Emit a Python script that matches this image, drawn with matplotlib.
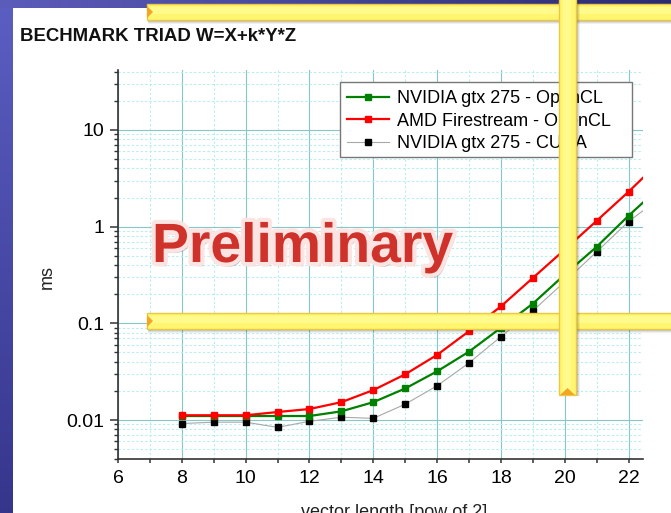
import numpy as np
import matplotlib
matplotlib.use("Agg")
import matplotlib.pyplot as plt
from matplotlib import patheffects as pe
from matplotlib.patches import Polygon, Rectangle
from matplotlib.ticker import FixedLocator, NullFormatter

plt.rcParams['font.family'] = ['Liberation Sans', 'DejaVu Sans']

# ---------------- data ----------------
x_pow = [8, 9, 10, 11, 12, 13, 14, 15, 16, 17, 18, 19, 20, 21, 22, 23]
nvidia_opencl = [0.011, 0.011, 0.011, 0.0110, 0.0110, 0.0123, 0.0153, 0.0212,
                 0.0319, 0.051, 0.090, 0.160, 0.32, 0.62, 1.30, 2.6]
amd_opencl = [0.0112, 0.0112, 0.0112, 0.0121, 0.0130, 0.0153, 0.0204, 0.0297,
              0.0472, 0.083, 0.150, 0.295, 0.58, 1.15, 2.30, 4.8]
nvidia_cuda = [0.0092, 0.0095, 0.0095, 0.0084, 0.0097, 0.0107, 0.0104, 0.0146,
               0.0226, 0.039, 0.073, 0.135, 0.27, 0.55, 1.13, 2.0]
series_labels = ["NVIDIA gtx 275 - OpenCL", "AMD Firestream - OpenCL",
                 "NVIDIA gtx 275 - CUDA"]
x_major = [6, 8, 10, 12, 14, 16, 18, 20, 22]
x_minor = [7, 9, 11, 13, 15, 17, 19, 21]
y_major = [0.01, 0.1, 1, 10]
y_major_labels = ["0.01", "0.1", "1", "10"]
title_text = "BECHMARK TRIAD W=X+k*Y*Z"
xlabel_text = "vector length [pow of 2]"
ylabel_text = "ms"
stamp_text = "Preliminary"

W, H = 671, 513
fig = plt.figure(figsize=(W / 100, H / 100), dpi=100)

# ---------------- slide background ----------------
bg = fig.add_axes([0, 0, 1, 1], zorder=0)
bg.set_xlim(0, W)
bg.set_ylim(H, 0)
bg.axis('off')
img = np.ones((H, W, 3))
rows = np.linspace(0, 1, H)[:, None]
top_c = np.array([0.36, 0.37, 0.76])
bot_c = np.array([0.21, 0.21, 0.55])
stripe = top_c * (1 - rows) + bot_c * rows
img[:, :13, :] = stripe[:, None, :].repeat(13, axis=1)
cols = np.linspace(0, 1, W)[:, None]
left_c = np.array([0.36, 0.36, 0.73])
right_c = np.array([0.17, 0.17, 0.45])
band = left_c * (1 - cols) + right_c * cols
img[:8, :, :] = band[None, :, :].repeat(8, axis=0)
bg.imshow(img, extent=[0, W, H, 0], aspect='auto', interpolation='bilinear')

# ---------------- chart ----------------
L, R, T, B = 118, 643, 70, 458.7
ax = fig.add_axes([L / W, 1 - B / H, (R - L) / W, (B - T) / H], zorder=2)
ax.set_facecolor('none')
ax.set_yscale('log')
ax.set_xlim(6, 22.45)
ax.set_ylim(10 ** -2.4, 10 ** 1.62)

ax.xaxis.set_major_locator(FixedLocator(x_major))
ax.xaxis.set_minor_locator(FixedLocator(x_minor))
ax.set_xticklabels([str(v) for v in x_major])
ax.yaxis.set_major_locator(FixedLocator(y_major))
ax.set_yticklabels(y_major_labels)
ymin = []
for d in [0.001, 0.01, 0.1, 1, 10]:
    for m in range(2, 10):
        ymin.append(d * m)
ax.yaxis.set_minor_locator(FixedLocator(ymin))
ax.yaxis.set_minor_formatter(NullFormatter())

for s in ['top', 'right']:
    ax.spines[s].set_visible(False)
for s in ['left', 'bottom']:
    ax.spines[s].set_color('#333333')
    ax.spines[s].set_linewidth(1.2)

ax.tick_params(axis='y', which='major', length=6, width=1.1, color='#333333',
               labelsize=14, pad=4)
ax.tick_params(axis='y', which='minor', length=3, width=1.0, color='#333333')
ax.tick_params(axis='x', which='both', length=3, width=1.1, color='#333333',
               labelsize=14, pad=5)

ax.grid(True, which='major', color='#86c8c8', linewidth=0.8, linestyle='-')
ax.grid(True, which='minor', color='#b4eeee', linewidth=0.8,
        linestyle=(0, (2, 2)))
ax.set_axisbelow(True)

ax.plot(x_pow, nvidia_opencl, color='#008000', lw=1.6, marker='s', ms=4.8,
        mec='#008000', mfc='#008000', label=series_labels[0], zorder=4)
ax.plot(x_pow, amd_opencl, color='#ff0000', lw=1.6, marker='s', ms=4.8,
        mec='#ff0000', mfc='#ff0000', label=series_labels[1], zorder=5)
ax.plot(x_pow, nvidia_cuda, color='#a8a8a8', lw=0.8, marker='s', ms=4.8,
        mec='#000000', mfc='#000000', label=series_labels[2], zorder=3)

# legend frame (drawn separately to match the reference's padding)
ax.add_patch(Rectangle((340 / W, 1 - 157 / H), 292 / W, 75 / H,
                       transform=fig.transFigure, facecolor='white',
                       edgecolor='#777777', lw=1.0, clip_on=False, zorder=6))
leg = ax.legend(loc='upper left', bbox_to_anchor=(347 / W, 1 - 90 / H),
                bbox_transform=fig.transFigure,
                fontsize=13, frameon=False, borderaxespad=0, borderpad=0,
                handlelength=2.35, handletextpad=0.4, labelspacing=0.31)
leg.set_zorder(7)

# titles / labels
fig.text(20 / W, 1 - 41 / H, title_text, fontsize=13.4, fontweight='bold',
         ha='left', va='baseline', color='#111111')
fig.text(47 / W, 1 - 277 / H, ylabel_text, fontsize=13, rotation=90,
         ha='center', va='center', color='#222222')
fig.text(394 / W, 1 - 504 / H, xlabel_text, fontsize=13, ha='center',
         va='top', color='#222222')

# "Preliminary" stamp
fig.text(152 / W, 1 - 262 / H, stamp_text, fontsize=39.8, fontweight='bold',
         color='#cf322a', ha='left', va='baseline', zorder=6,
         path_effects=[pe.SimplePatchShadow(offset=(2, -3), shadow_rgbFace='#777777',
                                            alpha=0.45),
                       pe.Stroke(linewidth=6, foreground='#fbe4e2'),
                       pe.Normal()])

# ---------------- yellow arrows overlay ----------------
ov = fig.add_axes([0, 0, 1, 1], zorder=10)
ov.set_xlim(0, W)
ov.set_ylim(H, 0)
ov.axis('off')
ov.patch.set_visible(False)

YEL = '#fff56e'
EDGE = '#e9c845'
ORG = '#f3a526'


def shadow_rect(x0, y0, w, h):
    for k, a in [(4, 0.06), (3, 0.08), (2, 0.10)]:
        ov.add_patch(Rectangle((x0 + 1, y0 + k), w, h, facecolor='#000000',
                               alpha=a, edgecolor='none'))


def h_arrow(x0, x1, y0, y1):
    shadow_rect(x0, y0, x1 - x0, y1 - y0)
    ov.add_patch(Rectangle((x0, y0), x1 - x0, y1 - y0, facecolor=YEL,
                           edgecolor=EDGE, lw=1.0))
    ov.add_patch(Rectangle((x0, y0 + 3), x1 - x0, (y1 - y0) * 0.45,
                           facecolor='#fffa8c', edgecolor='none'))
    ym = (y0 + y1) / 2
    ov.add_patch(Polygon([(x0, y0 + 2), (x0, y1 - 2), (x0 + 6, ym)],
                         closed=True, facecolor=ORG, edgecolor='none'))


def v_arrow(x0, x1, y0, y1):
    for k, a in [(4, 0.06), (3, 0.08), (2, 0.10)]:
        ov.add_patch(Rectangle((x0 + k, y0 + 1), x1 - x0, y1 - y0,
                               facecolor='#000000', alpha=a, edgecolor='none'))
    ov.add_patch(Rectangle((x0, y0), x1 - x0, y1 - y0, facecolor=YEL,
                           edgecolor=EDGE, lw=1.0))
    ov.add_patch(Rectangle((x0 + 4, y0), (x1 - x0) * 0.45, y1 - y0 - 2,
                           facecolor='#fffa8c', edgecolor='none'))
    xm = (x0 + x1) / 2
    ov.add_patch(Polygon([(x0 + 1, y1), (x1 - 1, y1), (xm, y1 - 7)],
                         closed=True, facecolor=ORG, edgecolor='none'))


h_arrow(147, W + 5, 4, 20)
h_arrow(147, W + 5, 313, 329)
v_arrow(559, 576, -5, 395)

fig.savefig('out.png', dpi=100)
